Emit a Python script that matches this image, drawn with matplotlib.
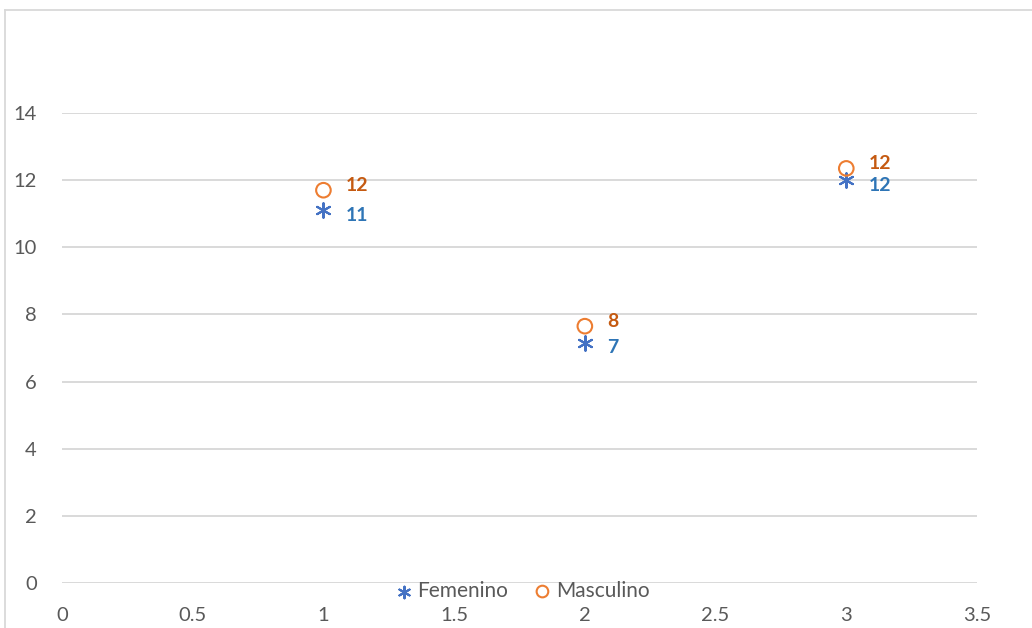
import matplotlib
matplotlib.use("Agg")
import matplotlib.pyplot as plt
from matplotlib.lines import Line2D

plt.rcParams['font.family'] = ['Lato', 'DejaVu Sans']

x_vals = [1, 2, 3]
femenino = [11.1, 7.15, 12.0]
masculino = [11.7, 7.65, 12.35]
fem_labels = ["11", "7", "12"]
masc_labels = ["12", "8", "12"]
x_ticks = [0, 0.5, 1, 1.5, 2, 2.5, 3, 3.5]
x_ticklabels = ["0", "0.5", "1", "1.5", "2", "2.5", "3", "3.5"]
y_ticks = [0, 2, 4, 6, 8, 10, 12, 14]

W, H = 1032, 628
fig = plt.figure(figsize=(W/100, H/100), dpi=100)
fig.patch.set_facecolor("white")

# chart border
fig.add_artist(Line2D([5/W, 1.0], [1-10/H, 1-10/H], color="#D9D9D9", lw=1.3))
fig.add_artist(Line2D([5/W, 5/W], [0, 1-10/H], color="#D9D9D9", lw=1.3))

left, right = 62/W, 977/W
bottom, top = 1-583/H, 1-113/H
ax = fig.add_axes([left, bottom, right-left, top-bottom])
ax.set_xlim(0, 3.5)
ax.set_ylim(0, 14)
for s in ax.spines.values():
    s.set_visible(False)
ax.set_xticks(x_ticks)
ax.set_xticklabels(x_ticklabels)
ax.set_yticks(y_ticks)
ax.tick_params(length=0, labelsize=14.5, labelcolor="#595959")
ax.tick_params(axis='x', pad=17)
ax.tick_params(axis='y', pad=18)
ax.grid(axis='y', color="#D9D9D9", lw=1.4)
ax.set_axisbelow(True)

blue_m = "#4472C4"
orange_m = "#ED7D31"
blue_t = "#2E75B6"
orange_t = "#C55A11"

ax.scatter(x_vals, femenino, marker=(6, 2, 0), s=110, color=blue_m, linewidths=1.5,
           label="Femenino", clip_on=False, zorder=3)
ax.scatter(x_vals, masculino, marker='o', s=110, facecolors='none', edgecolors=orange_m,
           linewidths=1.5, label="Masculino", clip_on=False, zorder=3)

for xv, yv, t in zip(x_vals, femenino, fem_labels):
    ax.annotate(t, (xv, yv), xytext=(22, -5), textcoords='offset pixels', ha='left', va='center',
                fontsize=14, fontweight='bold', color=blue_t)
for xv, yv, t in zip(x_vals, masculino, masc_labels):
    ax.annotate(t, (xv, yv), xytext=(22, 5), textcoords='offset pixels', ha='left', va='center',
                fontsize=14, fontweight='bold', color=orange_t)

handles, labels = ax.get_legend_handles_labels()
fig.legend(handles, labels, loc='center', bbox_to_anchor=(523/W, 1-591/H), ncol=2, frameon=False,
           fontsize=15, labelcolor="#595959", handletextpad=0.3, columnspacing=1.3,
           handlelength=0.7, markerscale=0.8, borderpad=0.1)

fig.savefig("out.png", dpi=100, facecolor="white")
